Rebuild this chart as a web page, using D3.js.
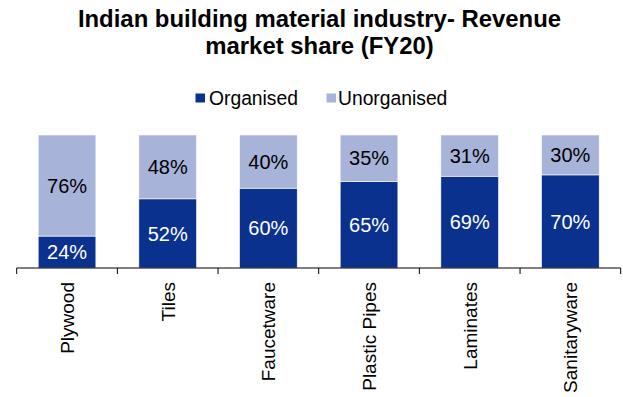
<!DOCTYPE html>
<html>
<head>
<meta charset="utf-8">
<script src="https://cdn.jsdelivr.net/npm/d3@7/dist/d3.min.js"></script>
<style>
  html, body { margin: 0; padding: 0; background: #fff; }
  svg { display: block; font-family: "Liberation Sans", Arial, sans-serif; }
</style>
</head>
<body>
<svg id="chart" width="623" height="397"></svg>
<script>
// Revenue market share by segment, FY20 (percent)
const categories = ["Plywood", "Tiles", "Faucetware", "Plastic Pipes", "Laminates", "Sanitaryware"];
const organised = [24, 52, 60, 65, 69, 70];
const unorganised = [76, 48, 40, 35, 31, 30];
const seriesNames = ["Organised", "Unorganised"];
const titleLines = ["Indian building material industry- Revenue", "market share (FY20)"];

const colors = { Organised: "#0B318F", Unorganised: "#A7B3D9" };

const W = 623, H = 397;
const margin = { left: 16.7, right: 2.3, top: 135, bottom: 129 };
const svg = d3.select("#chart");

const x = d3.scaleBand()
  .domain(categories)
  .range([margin.left, W - margin.right])
  .paddingInner(0.427)
  .paddingOuter(0.2135);

const y = d3.scaleLinear()
  .domain([0, 100])
  .range([H - margin.bottom, margin.top]);

const rows = categories.map((c, i) => ({ cat: c, Organised: organised[i], Unorganised: unorganised[i] }));
const stacked = d3.stack().keys(seriesNames)(rows);

// Title
const title = svg.append("text")
  .attr("x", 319.5)
  .attr("text-anchor", "middle")
  .attr("font-weight", "bold")
  .attr("font-size", "23.9px")
  .attr("fill", "#000");
titleLines.forEach((t, i) => {
  title.append("tspan").attr("x", 319.5).attr("y", 26.8 + i * 26.8).text(t);
});

// Legend
const legendItems = [
  { name: "Organised", sx: 195.5, tx: 209 },
  { name: "Unorganised", sx: 326.5, tx: 338 }
];
const legend = svg.append("g");
legendItems.forEach(d => {
  legend.append("rect")
    .attr("x", d.sx).attr("y", 93.5)
    .attr("width", 9.5).attr("height", 9)
    .attr("fill", colors[d.name]);
  legend.append("text")
    .attr("x", d.tx).attr("y", 98)
    .attr("dy", "0.35em")
    .attr("font-size", "19.3px")
    .attr("fill", "#000")
    .text(d.name);
});

// Stacked bars
const layers = svg.append("g").selectAll("g")
  .data(stacked)
  .join("g")
  .attr("fill", d => colors[d.key]);

layers.selectAll("rect")
  .data(d => d.map(v => ({ key: d.key, v })))
  .join("rect")
  .attr("x", d => x(d.v.data.cat))
  .attr("y", d => y(d.v[1]))
  .attr("width", x.bandwidth())
  .attr("height", d => y(d.v[0]) - y(d.v[1]))
  .attr("stroke", "#ffffff")
  .attr("stroke-width", 0.6);

// Value labels centred in each segment
layers.selectAll("text")
  .data(d => d.map(v => ({ key: d.key, v })))
  .join("text")
  .attr("x", d => x(d.v.data.cat) + x.bandwidth() / 2)
  .attr("y", d => (y(d.v[0]) + y(d.v[1])) / 2)
  .attr("dy", "0.36em")
  .attr("text-anchor", "middle")
  .attr("font-size", "20px")
  .attr("fill", d => d.key === "Organised" ? "#ffffff" : "#000000")
  .text(d => d.v.data[d.key] + "%");

// Category axis: baseline with ticks at band boundaries
const axisY = H - margin.bottom;
const axis = svg.append("g");
axis.append("line")
  .attr("x1", margin.left).attr("x2", W - margin.right)
  .attr("y1", axisY).attr("y2", axisY)
  .attr("stroke", "#000").attr("stroke-width", 1);

const step = x.step();
const boundaries = d3.range(categories.length + 1).map(i => margin.left + i * step);
axis.selectAll("line.tick")
  .data(boundaries)
  .join("line")
  .attr("class", "tick")
  .attr("x1", d => d).attr("x2", d => d)
  .attr("y1", axisY).attr("y2", axisY + 6)
  .attr("stroke", "#000").attr("stroke-width", 1);

axis.selectAll("text")
  .data(categories)
  .join("text")
  .attr("transform", d => `translate(${x(d) + x.bandwidth() / 2},${axisY + 14}) rotate(-90)`)
  .attr("text-anchor", "end")
  .attr("dy", "0.36em")
  .attr("font-size", "19px")
  .attr("fill", "#000")
  .text(d => d);
</script>
</body>
</html>
